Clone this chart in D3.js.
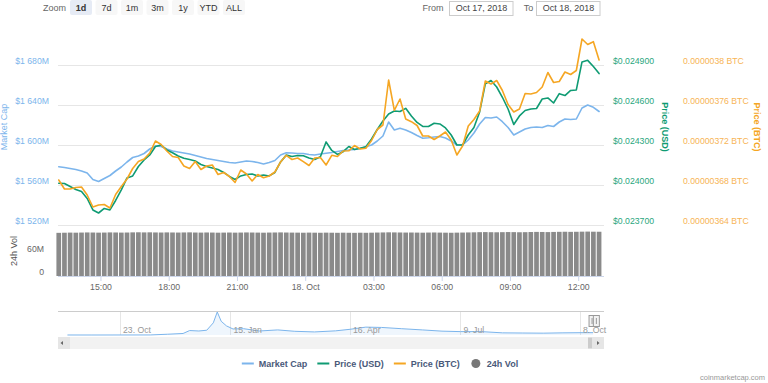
<!DOCTYPE html>
<html><head><meta charset="utf-8">
<script src="https://cdn.jsdelivr.net/npm/d3@7"></script>
<style>
body{margin:0;background:#fff}
svg{display:block;font-family:"Liberation Sans",Arial,sans-serif}
</style>
</head><body>
<svg id="chart" width="768" height="383"></svg>
<script>
// ---------------- DATA ----------------
const startTime = "2018-10-17T13:10";   // first sample (15-minute series)
const stepMinutes = 15;
// Market cap, $ millions
const marketCap = [
1578.3,1577.5,1576.5,1575.5,1574,1572,1565.5,1563.5,1566.5,1569.5,
1574,1578,1583,1587.5,1589,1591.5,1596,1599,1598.5,1596,
1594,1593,1592,1591,1589.5,1588,1586.5,1585.5,1584.5,1583.5,
1582.5,1582,1583,1584,1583.5,1582.5,1581,1582.5,1584.5,1590,
1592.3,1592,1591.5,1591.5,1590.5,1590,1591,1591.7,1592.5,1593.5,
1594.5,1595,1595.5,1596.5,1598.3,1600,1604,1609,1623,1615,
1616.7,1615,1612.5,1609.5,1606.7,1607.2,1608,1608.5,1607,1604,
1600,1600,1605,1612,1621,1627.5,1627,1628,1623.3,1617.5,
1610,1613,1616,1617.5,1618,1617.5,1619.5,1618.5,1623,1626,
1625.5,1626,1637,1640,1637.7,1633.5];
// Price in USD
const priceUsd = [
0.024013,0.024011,0.023989,0.023966,0.023951,0.023899,0.023813,0.023790,0.023824,0.023813,
0.023884,0.023963,0.024053,0.024068,0.024139,0.024188,0.024225,0.024289,0.024300,0.024263,
0.024242,0.024218,0.024201,0.024191,0.024180,0.024154,0.024139,0.024128,0.024116,0.024094,
0.024064,0.024041,0.024068,0.024079,0.024083,0.024068,0.024075,0.024068,0.024094,0.024173,
0.024224,0.024214,0.024221,0.024219,0.024203,0.024191,0.024212,0.024323,0.024259,0.024229,
0.024250,0.024289,0.024266,0.024275,0.024287,0.024345,0.024416,0.024480,0.024533,0.024555,
0.024551,0.024575,0.024518,0.024469,0.024439,0.024439,0.024463,0.024458,0.024428,0.024375,
0.024300,0.024300,0.024375,0.024431,0.024548,0.024758,0.024784,0.024735,0.024658,0.024570,
0.024454,0.024518,0.024559,0.024570,0.024574,0.024645,0.024653,0.024615,0.024685,0.024671,
0.024709,0.024713,0.024923,0.024935,0.024889,0.024836];
// Price in BTC
const priceBtc = [
3.6850e-6,3.6760e-6,3.6760e-6,3.6775e-6,3.6780e-6,3.6700e-6,3.6580e-6,3.6600e-6,3.6605e-6,3.6570e-6,
3.6705e-6,3.6785e-6,3.6860e-6,3.6965e-6,3.7035e-6,3.7060e-6,3.7120e-6,3.7240e-6,3.7205e-6,3.7140e-6,
3.7085e-6,3.7075e-6,3.6990e-6,3.6965e-6,3.7035e-6,3.6955e-6,3.6990e-6,3.7000e-6,3.6905e-6,3.6925e-6,
3.6885e-6,3.6825e-6,3.6950e-6,3.6910e-6,3.6840e-6,3.6905e-6,3.6872e-6,3.6890e-6,3.6930e-6,3.7030e-6,
3.7097e-6,3.7055e-6,3.7070e-6,3.7033e-6,3.6995e-6,3.7070e-6,3.7075e-6,3.7000e-6,3.7097e-6,3.7085e-6,
3.7140e-6,3.7142e-6,3.7195e-6,3.7160e-6,3.7167e-6,3.7245e-6,3.7355e-6,3.7400e-6,3.7850e-6,3.7547e-6,
3.7660e-6,3.7460e-6,3.7433e-6,3.7395e-6,3.7290e-6,3.7290e-6,3.7255e-6,3.7290e-6,3.7330e-6,3.7250e-6,
3.7100e-6,3.7190e-6,3.7390e-6,3.7455e-6,3.7540e-6,3.7840e-6,3.7810e-6,3.7845e-6,3.7745e-6,3.7605e-6,
3.7530e-6,3.7560e-6,3.7715e-6,3.7710e-6,3.7725e-6,3.7780e-6,3.7925e-6,3.7825e-6,3.7835e-6,3.7930e-6,
3.7905e-6,3.7945e-6,3.8260e-6,3.8205e-6,3.8233e-6,3.8050e-6];
// 24h volume, $ millions
const volume24h = [
110.2,110.5,110.8,110.6,110.9,111.2,111.0,110.7,110.9,111.3,
111.1,110.8,111.0,111.4,111.6,111.3,111.5,111.2,111.0,111.3,
111.1,110.9,111.2,111.4,111.0,110.8,111.1,110.9,110.6,110.8,
111.0,110.7,110.9,111.2,111.0,110.8,110.6,110.9,111.1,111.3,
111.0,110.8,110.7,110.5,110.8,110.6,110.4,110.7,110.5,110.3,
110.6,110.4,110.2,110.5,110.3,110.6,110.9,111.2,111.5,111.3,
111.1,110.9,111.0,110.8,110.6,110.9,111.1,110.8,110.6,110.4,
110.7,110.9,111.2,111.5,111.9,112.1,111.8,111.6,111.9,112.2,
112.0,111.7,111.9,112.3,112.6,112.4,112.1,112.5,112.8,113.0,
112.7,112.9,113.2,113.4,113.1,113.0];

const capTicks = [1520,1560,1600,1640,1680];
const usdTicks = [0.0237,0.0240,0.0243,0.0246,0.0249];
const btcTicks = [0.00000364,0.00000368,0.00000372,0.00000376,0.0000038];
const volTicks = [0,60];
const rangeButtons = ["1d","7d","1m","3m","1y","YTD","ALL"];
const fromDate = "Oct 17, 2018", toDate = "Oct 18, 2018";
const legendItems = ["Market Cap","Price (USD)","Price (BTC)","24h Vol"];

// navigator: whole-history market cap ($ millions)
const navDates = ["2017-09-13","2017-10-01","2017-10-23","2017-11-15","2017-11-28","2017-12-10","2017-12-15","2017-12-22","2017-12-28",
"2018-01-02","2018-01-05","2018-01-08","2018-01-12","2018-01-17","2018-01-25","2018-02-06","2018-02-20","2018-03-05","2018-03-20",
"2018-04-05","2018-04-16","2018-04-28","2018-05-10","2018-05-25","2018-06-10","2018-06-25","2018-07-09","2018-07-25","2018-08-10",
"2018-08-25","2018-09-10","2018-09-25","2018-10-08","2018-10-18"];
const navCap = [120,110,130,150,600,1100,3000,2700,3200,
8000,15000,9000,6000,4000,4200,2700,3400,2500,2100,
2800,3800,5200,5000,4200,3400,2600,2300,2300,1500,
1400,1300,1500,1600,1630];
const navTickDates = ["2017-10-23","2018-01-15","2018-04-16","2018-07-09","2018-10-08"];

// ---------------- COLOURS ----------------
const cBlue = "#7cb5ec", cGreen = "#0f9b73", cOrange = "#f5a623", cVol = "#8a8a8a";

// ---------------- SCALES ----------------
const svg = d3.select("#chart");
svg.append("rect").attr("width",768).attr("height",383).attr("fill","#fff");
const parse = d3.timeParse("%Y-%m-%dT%H:%M");
const t0 = parse(startTime);
const times = marketCap.map((_, i) => d3.timeMinute.offset(t0, i * stepMinutes));

const L = 58, R = 604;
const x = d3.scaleTime().domain([parse("2018-10-17T13:08"), parse("2018-10-18T13:08")]).range([L, R]);
const yTop = 65, yBot = 225;
const yCap = d3.scaleLinear().domain([1520,1680]).range([yBot, yTop]);
const yUsd = d3.scaleLinear().domain([0.0237,0.0249]).range([yBot, yTop]);
const yBtc = d3.scaleLinear().domain([0.00000364,0.0000038]).range([yBot, yTop]);
const yVol = d3.scaleLinear().domain([0,120]).range([276, 229]);

const fs = 8.7;
const loc = d3.formatLocale({decimal:".", thousands:" ", grouping:[3], currency:["$",""]});
const fmtCap = v => loc.format("$,")(v) + "M";

// ---------------- GRID ----------------
svg.append("g").selectAll("line").data(capTicks).join("line")
  .attr("x1", L).attr("x2", R).attr("y1", d => yCap(d)+0.5).attr("y2", d => yCap(d)+0.5)
  .attr("stroke", "#e6e6e6");

// ---------------- AXES LABELS ----------------
function styleAxis(g, color){
  g.select(".domain").remove();
  g.selectAll(".tick line").remove();
  g.selectAll("text").attr("fill", color).style("font-size", fs+"px").style("font-family","Liberation Sans, Arial, sans-serif");
}
svg.append("g").attr("transform","translate(49,-4)")
  .call(d3.axisLeft(yCap).tickValues(capTicks).tickSize(0).tickPadding(0).tickFormat(fmtCap))
  .call(g => styleAxis(g, cBlue));
svg.append("g").attr("transform","translate(613,-4)")
  .call(d3.axisRight(yUsd).tickValues(usdTicks).tickSize(0).tickPadding(0).tickFormat(v => "$" + v.toFixed(6)))
  .call(g => styleAxis(g, "#2aa67e"));
svg.append("g").attr("transform","translate(683,-4)")
  .call(d3.axisRight(yBtc).tickValues(btcTicks).tickSize(0).tickPadding(0)
    .tickFormat(v => v.toFixed(8).replace(/0+$/,"") + " BTC"))
  .call(g => styleAxis(g, "#f7b455"));
svg.append("g").attr("transform","translate(44,-4)")
  .call(d3.axisLeft(yVol).tickValues(volTicks).tickSize(0).tickPadding(0).tickFormat(v => v === 0 ? "0" : v + "M"))
  .call(g => styleAxis(g, "#666"));

// axis titles
svg.append("text").attr("transform","translate(4,127) rotate(-90)").attr("text-anchor","middle")
  .attr("dominant-baseline","central").attr("fill",cBlue).style("font-size","9px").text("Market Cap");
svg.append("text").attr("transform","translate(665,127) rotate(90)").attr("text-anchor","middle")
  .attr("dominant-baseline","central").attr("fill","#0f9b73").style("font-size","9px").style("font-weight","bold").text("Price (USD)");
svg.append("text").attr("transform","translate(756.5,127) rotate(90)").attr("text-anchor","middle")
  .attr("dominant-baseline","central").attr("fill",cOrange).style("font-size","9px").style("font-weight","bold").text("Price (BTC)");
svg.append("text").attr("transform","translate(14,251) rotate(-90)").attr("text-anchor","middle")
  .attr("dominant-baseline","central").attr("fill","#555").style("font-size","9px").text("24h Vol");

// ---------------- VOLUME ----------------
const step = x(times[1]) - x(times[0]);
svg.append("g").selectAll("rect").data(volume24h).join("rect")
  .attr("x", (d,i) => x(times[i]) - step/2 + 0.5)
  .attr("width", step - 1)
  .attr("y", d => yVol(d))
  .attr("height", d => yVol(0) - yVol(d))
  .attr("fill", cVol);

// x axis
const xAxisTicks = d3.timeHour.every(3).range(x.domain()[0], x.domain()[1]);
svg.append("g").attr("transform","translate(0,276)")
  .call(d3.axisBottom(x).tickValues(xAxisTicks).tickSize(5).tickPadding(3)
    .tickFormat(d => d.getHours() === 0 ? d3.timeFormat("%-d. %b")(d) : d3.timeFormat("%H:%M")(d)))
  .call(g => {
    g.select(".domain").attr("stroke","#ccd6eb").attr("d", `M${L},0.5H${R}`);
    g.selectAll(".tick line").attr("stroke","#ccd6eb");
    g.selectAll("text").attr("fill","#666").style("font-size", fs+"px").style("font-family","Liberation Sans, Arial, sans-serif");
  });

// ---------------- LINES ----------------
function drawLine(values, yScale, color){
  svg.append("path").datum(values)
    .attr("fill","none").attr("stroke", color).attr("stroke-width",1.6)
    .attr("stroke-linejoin","round").attr("stroke-linecap","round")
    .attr("d", d3.line().x((d,i) => x(times[i])).y(d => yScale(d)));
}
drawLine(marketCap, yCap, cBlue);
drawLine(priceUsd, yUsd, cGreen);
drawLine(priceBtc, yBtc, cOrange);

// ---------------- RANGE SELECTOR ----------------
svg.append("text").attr("x",43).attr("y",10.5).attr("fill","#666").style("font-size","9px").text("Zoom");
const btn = svg.append("g").selectAll("g").data(rangeButtons).join("g")
  .attr("transform",(d,i) => `translate(${81 + i*25.5},0)`);
btn.append("rect").attr("x",-11).attr("y",0).attr("width",22).attr("height",15).attr("rx",2)
  .attr("fill",(d,i) => i === 0 ? "#e6ebf5" : "#f7f7f7");
btn.append("text").attr("y",10.5).attr("text-anchor","middle").attr("fill","#333")
  .style("font-size","9px").style("font-weight",(d,i) => i === 0 ? "bold" : "normal").text(d => d);

svg.append("text").attr("x",433).attr("y",10.5).attr("text-anchor","middle").attr("fill","#666").style("font-size","9px").text("From");
svg.append("text").attr("x",528.5).attr("y",10.5).attr("text-anchor","middle").attr("fill","#666").style("font-size","9px").text("To");
[[449.5, fromDate],[536.5, toDate]].forEach(([bx, txt]) => {
  svg.append("rect").attr("x",bx).attr("y",1.5).attr("width",63.5).attr("height",14).attr("fill","#fff").attr("stroke","#ccc");
  svg.append("text").attr("x",bx+32).attr("y",11).attr("text-anchor","middle").attr("fill","#444").style("font-size","9px").text(txt);
});

// ---------------- NAVIGATOR ----------------
const pd = d3.timeParse("%Y-%m-%d");
const navT = navDates.map(pd);
const xNav = d3.scaleTime().domain([pd("2017-10-23"), pd("2018-10-08")]).range([120, 580]);
const navTop = 311, navBot = 335;
const yNav = d3.scaleLinear().domain([d3.min(navCap), d3.max(navCap)]).range([navBot, navTop + 1]);
svg.append("g").selectAll("line").data(navTickDates.map(pd)).join("line")
  .attr("x1", d => Math.round(xNav(d))+0.5).attr("x2", d => Math.round(xNav(d))+0.5)
  .attr("y1", navTop).attr("y2", navBot).attr("stroke","#e6e6e6");
svg.append("path").datum(navCap)
  .attr("fill","rgba(124,181,236,0.12)")
  .attr("d", d3.area().x((d,i) => xNav(navT[i])).y0(navBot).y1(d => yNav(d)));
svg.append("path").datum(navCap)
  .attr("fill","none").attr("stroke",cBlue).attr("stroke-width",1)
  .attr("d", d3.line().x((d,i) => xNav(navT[i])).y(d => yNav(d)));
svg.append("g").selectAll("text").data(navTickDates).join("text")
  .attr("x", d => xNav(pd(d)) + 3).attr("y", 333).attr("fill","#999").style("font-size", fs+"px")
  .text(d => d3.timeFormat("%-d. %b")(pd(d)));
svg.append("line").attr("x1",L).attr("x2",R).attr("y1",navTop+0.5).attr("y2",navTop+0.5).attr("stroke","#ccc");
// handles for selected range (last day)
const selStart = xNav(x.domain()[0]), selEnd = xNav(x.domain()[1]);
[selStart - 3, selEnd].forEach(hx => {
  svg.append("rect").attr("x", hx - 0.5).attr("y", 315.5).attr("width", 6).attr("height", 11)
    .attr("fill","#f2f2f2").attr("stroke","#999");
  svg.append("line").attr("x1",hx+2.5).attr("x2",hx+2.5).attr("y1",318).attr("y2",324).attr("stroke","#999");
});
// scrollbar
svg.append("rect").attr("x",L).attr("y",337).attr("width",R-L).attr("height",12).attr("fill","#f2f2f2");
[[L, "M63,341L60.5,343L63,345Z"],[R-12, "M597,341L599.5,343L597,345Z"]].forEach(([bx, p]) => {
  svg.append("rect").attr("x",bx).attr("y",337).attr("width",12).attr("height",12).attr("fill","#e6e6e6");
  svg.append("path").attr("d",p).attr("fill","#666");
});
svg.append("rect").attr("x",R-16).attr("y",337.5).attr("width",4).attr("height",11).attr("fill","#ccc");

// ---------------- LEGEND ----------------
const legColors = [cBlue, cGreen, cOrange, "#777"];
const leg = svg.append("g");
let lx = 0;
legendItems.forEach((name, i) => {
  const g = leg.append("g").attr("transform", `translate(${lx},0)`);
  if (i < 3) g.append("line").attr("x1",0).attr("x2",12).attr("y1",363.5).attr("y2",363.5).attr("stroke",legColors[i]).attr("stroke-width",2);
  else g.append("circle").attr("cx",6).attr("cy",363.5).attr("r",4.5).attr("fill",legColors[i]);
  const t = g.append("text").attr("x",17).attr("y",366.5).attr("fill","#4a5a7a").style("font-size","9px").style("font-weight","bold").text(name);
  lx += 17 + t.node().getComputedTextLength() + 10;
});
leg.attr("transform", `translate(${380 - (lx - 10)/2},0)`);

// credits
svg.append("text").attr("x",765).attr("y",380).attr("text-anchor","end").attr("fill","#999").style("font-size","7.5px").text("coinmarketcap.com");
</script>
</body></html>
